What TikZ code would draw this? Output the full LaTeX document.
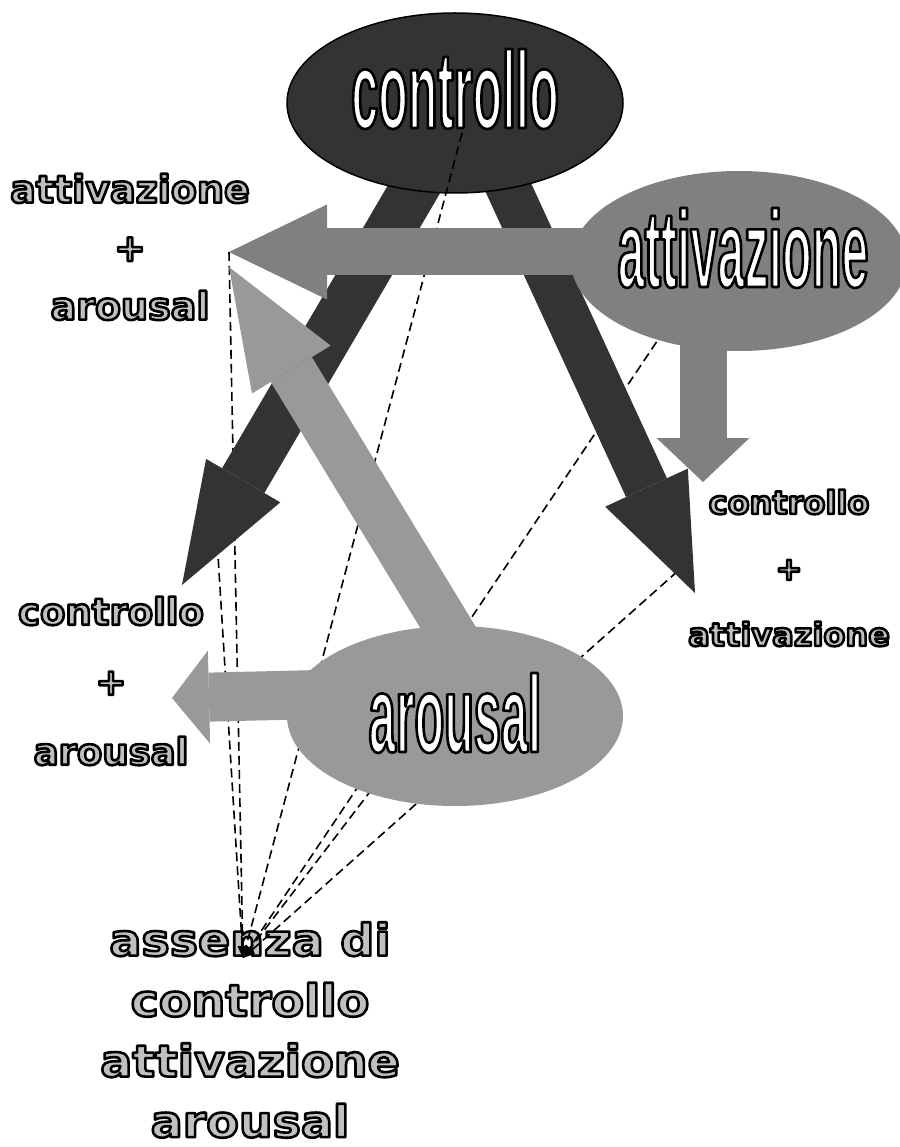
\documentclass[tikz,border=0pt]{standalone}
\usepackage{fontspec}
\usetikzlibrary{shapes.geometric,arrows.meta}
\newfontfamily\ovalfont{Liberation Sans}[FakeStretch=0.445]
\newfontfamily\lblfont{DejaVu Sans}
\newfontfamily\lblwfont{DejaVu Sans}[FakeStretch=1.08]
\definecolor{scuro}{HTML}{333333}
\definecolor{medio}{HTML}{808080}
\definecolor{chiaro}{HTML}{999999}
\definecolor{argento}{HTML}{C0C0C0}
% testo pieno con contorno nero
\newcommand{\contorno}[1]{\special{pdf:literal direct 0 G 2.6 w 1 j 2 Tr}#1\special{pdf:literal direct 0 Tr}}
\tikzstyle{ov}=[ellipse,minimum width=336pt,minimum height=180pt,inner sep=0pt]
\tikzstyle{ovt}=[text=white,inner sep=0pt,font=\ovalfont\bfseries\fontsize{109}{110}\selectfont]
\tikzstyle{lb}=[text=argento,inner sep=0pt,align=center]
\tikzstyle{tratt}=[draw=black,line width=1.6pt,dash pattern=on 9pt off 5pt,-{Triangle[length=12pt,width=9pt]}]
\tikzset{freccia/.style n args={4}{draw=#1,line width=#2,-{Triangle[length=#3,width=#4,line width=0pt]}}}

\begin{document}
\begin{tikzpicture}[x=1pt,y=-1pt]
\useasboundingbox (0,0) rectangle (899,1147);

% etichette
\node[lb,font=\lblfont\bfseries\fontsize{38}{58.5}\selectfont] (attar) at (130,247) {\contorno{attivazione}\\\contorno{+}\\\contorno{arousal}};
\node[lb,font=\lblfont\bfseries\fontsize{32}{66}\selectfont] (conat) at (789,568) {\contorno{controllo}\\\contorno{+}\\\contorno{attivazione}};
\node[lb,font=\lblfont\bfseries\fontsize{37}{70}\selectfont] (conar) at (111,681) {\contorno{controllo}\\\contorno{+}\\\contorno{arousal}};
\node[lb,font=\lblwfont\bfseries\fontsize{44}{60.5}\selectfont] (assenza) at (250,1030) {\contorno{assenza di}\\\contorno{controllo}\\\contorno{attivazione}\\\contorno{arousal}};

% punti
\coordinate (punto) at (243,958);
\coordinate (c1) at (437,150);  \coordinate (tipC) at (182,585);
\coordinate (c2) at (491,150);  \coordinate (tipB) at (695,593);
\coordinate (a1) at (600,252);  \coordinate (tipA) at (229,252);
\coordinate (a2) at (703,300);  \coordinate (tipB2) at (703,482);
\coordinate (r1) at (480,680);  \coordinate (tipA2) at (229,267);
\coordinate (r2) at (340,694);  \coordinate (tipC2) at (172,698);
\coordinate (contrc) at (462,133);
\coordinate (chead) at (213,475);
\coordinate (bhead) at (688,562);
\coordinate (attivc) at (680,307);
\coordinate (arousc) at (440,700);

% tratteggi
\draw[tratt] (tipA) -- (punto);
\draw[tratt] (chead) -- (punto);
\draw[tratt] (bhead) -- (punto);
\draw[tratt] (attivc) -- (punto);
\draw[tratt] (arousc) -- (punto);

% frecce scure
\draw[freccia={scuro}{49pt}{121pt}{86pt}] (c1) -- (tipC);
\draw[freccia={scuro}{45pt}{116pt}{91pt}] (c2) -- (tipB);

\node[ov,fill=scuro,draw=black,line width=1.5pt] (contr) at (455,103) {};
\node[ovt] (contrt) at ([yshift=14pt]contr.center) {\contorno{controllo}};
\draw[tratt] (contrc) -- (punto);

% frecce grigie
\draw[freccia={medio}{47pt}{98pt}{95pt}] (a1) -- (tipA);
\draw[freccia={medio}{47pt}{44pt}{93pt}] (a2) -- (tipB2);
\draw[freccia={chiaro}{48pt}{120pt}{92pt}] (r1) -- (tipA2);
\draw[freccia={chiaro}{49pt}{37pt}{93pt}] (r2) -- (tipC2);

\node[ov,fill=medio] (attiv) at (739,261) {};
\node[ovt] (attivt) at ([xshift=4pt,yshift=13pt]attiv.center) {\contorno{attivazione}};
\node[ov,fill=chiaro] (arous) at (455,716) {};
\node[ovt] (aroust) at ([yshift=3pt]arous.center) {\contorno{arousal}};
\end{tikzpicture}
\end{document}
